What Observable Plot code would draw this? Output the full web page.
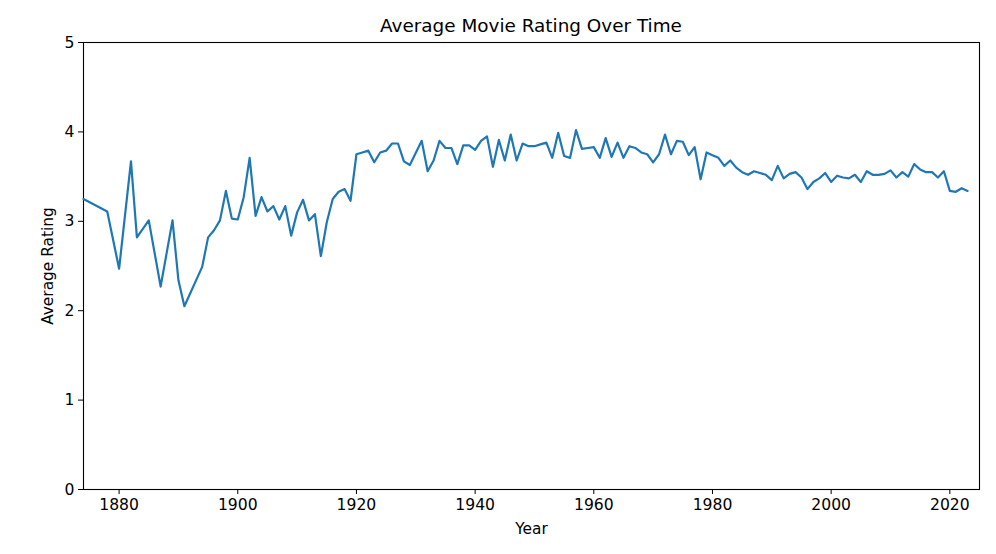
<!DOCTYPE html>
<html>
<head>
<meta charset="utf-8">
<script src="https://cdn.jsdelivr.net/npm/d3@7"></script>
<script src="https://cdn.jsdelivr.net/npm/@observablehq/plot@0.6"></script>
<style>
  html, body { margin: 0; padding: 0; background: #fff; }
  #title { font-family: "DejaVu Sans", sans-serif; font-size: 18.4px; text-align: center;
           width: 996px; height: 34px; box-sizing: border-box; padding-top: 15px; line-height: 22px;
           padding-left: 66px; }
  #chart svg g[aria-label="x-axis label"] text, #chart svg g[aria-label="y-axis label"] text { font-size: 15.4px; }
</style>
</head>
<body>
<div id="title">Average Movie Rating Over Time</div>
<div id="chart"></div>
<script>
const years = [1874,1878,1880,1882,1883,1885,1887,1889,1890,1891,1894,1895,1896,1897,1898,1899,
  1900,1901,1902,1903,1904,1905,1906,1907,1908,1909,1910,1911,1912,1913,1914,1915,1916,1917,1918,1919,
  1920,1921,1922,1923,1924,1925,1926,1927,1928,1929,1931,1932,1933,1934,1935,1936,1937,1938,1939,
  1940,1941,1942,1943,1944,1945,1946,1947,1948,1949,1950,1951,1952,1953,1954,1955,1956,1957,1958,1959,
  1960,1961,1962,1963,1964,1965,1966,1967,1968,1969,1970,1971,1972,1973,1974,1975,1976,1977,1978,1979,
  1980,1981,1982,1983,1984,1985,1986,1987,1988,1989,1990,1991,1992,1993,1994,1995,1996,1997,1998,1999,
  2000,2001,2002,2003,2004,2005,2006,2007,2008,2009,2010,2011,2012,2013,2014,2015,2016,2017,2018,2019,
  2020,2021,2022,2023];
const ratings = [3.25,3.11,2.47,3.67,2.82,3.01,2.27,3.01,2.34,2.05,2.49,2.82,2.90,3.01,3.34,3.03,
  3.02,3.27,3.71,3.06,3.27,3.11,3.17,3.02,3.17,2.84,3.10,3.24,3.01,3.08,2.61,2.99,3.25,3.33,3.36,3.23,
  3.75,3.77,3.79,3.66,3.77,3.79,3.87,3.87,3.67,3.63,3.90,3.56,3.68,3.90,3.82,3.82,3.64,3.85,3.85,
  3.80,3.90,3.95,3.61,3.91,3.68,3.97,3.68,3.87,3.84,3.84,3.86,3.88,3.71,3.99,3.73,3.71,4.02,3.81,3.82,
  3.83,3.71,3.93,3.72,3.88,3.71,3.84,3.82,3.77,3.75,3.66,3.75,3.97,3.75,3.90,3.89,3.74,3.83,3.47,3.77,
  3.74,3.71,3.62,3.68,3.60,3.55,3.52,3.56,3.54,3.52,3.46,3.62,3.48,3.53,3.55,3.49,3.36,3.44,3.48,3.54,
  3.44,3.51,3.49,3.48,3.52,3.44,3.56,3.52,3.52,3.53,3.57,3.49,3.55,3.50,3.64,3.58,3.55,3.55,3.49,3.56,
  3.34,3.33,3.37,3.34];
const xTicks = [1880,1900,1920,1940,1960,1980,2000,2020];
const yTicks = [0,1,2,3,4,5];
const xDomain = [1874, 2025];
const yDomain = [0, 5];

const data = years.map((y, i) => ({year: y, rating: ratings[i]}));

const chart = Plot.plot({
  width: 996,
  height: 520,
  marginLeft: 83,
  marginRight: 17,
  marginTop: 8,
  marginBottom: 65,
  style: { fontFamily: "DejaVu Sans, sans-serif", fontSize: "15.6px", color: "#000", background: "#fff" },
  x: { domain: xDomain, ticks: xTicks, tickFormat: "d", tickSize: 5, tickPadding: 4,
       label: "Year", labelAnchor: "center", labelArrow: "none", labelOffset: 44 },
  y: { domain: yDomain, ticks: yTicks, tickFormat: "d", tickSize: 5, tickPadding: 4,
       label: "Average Rating", labelAnchor: "center", labelArrow: "none", labelOffset: 41 },
  marks: [
    Plot.frame({ stroke: "#000", strokeWidth: 1.1 }),
    Plot.line(data, { x: "year", y: "rating", stroke: "#1f77b4", strokeWidth: 2.2 })
  ]
});
document.getElementById("chart").appendChild(chart);
</script>
</body>
</html>
